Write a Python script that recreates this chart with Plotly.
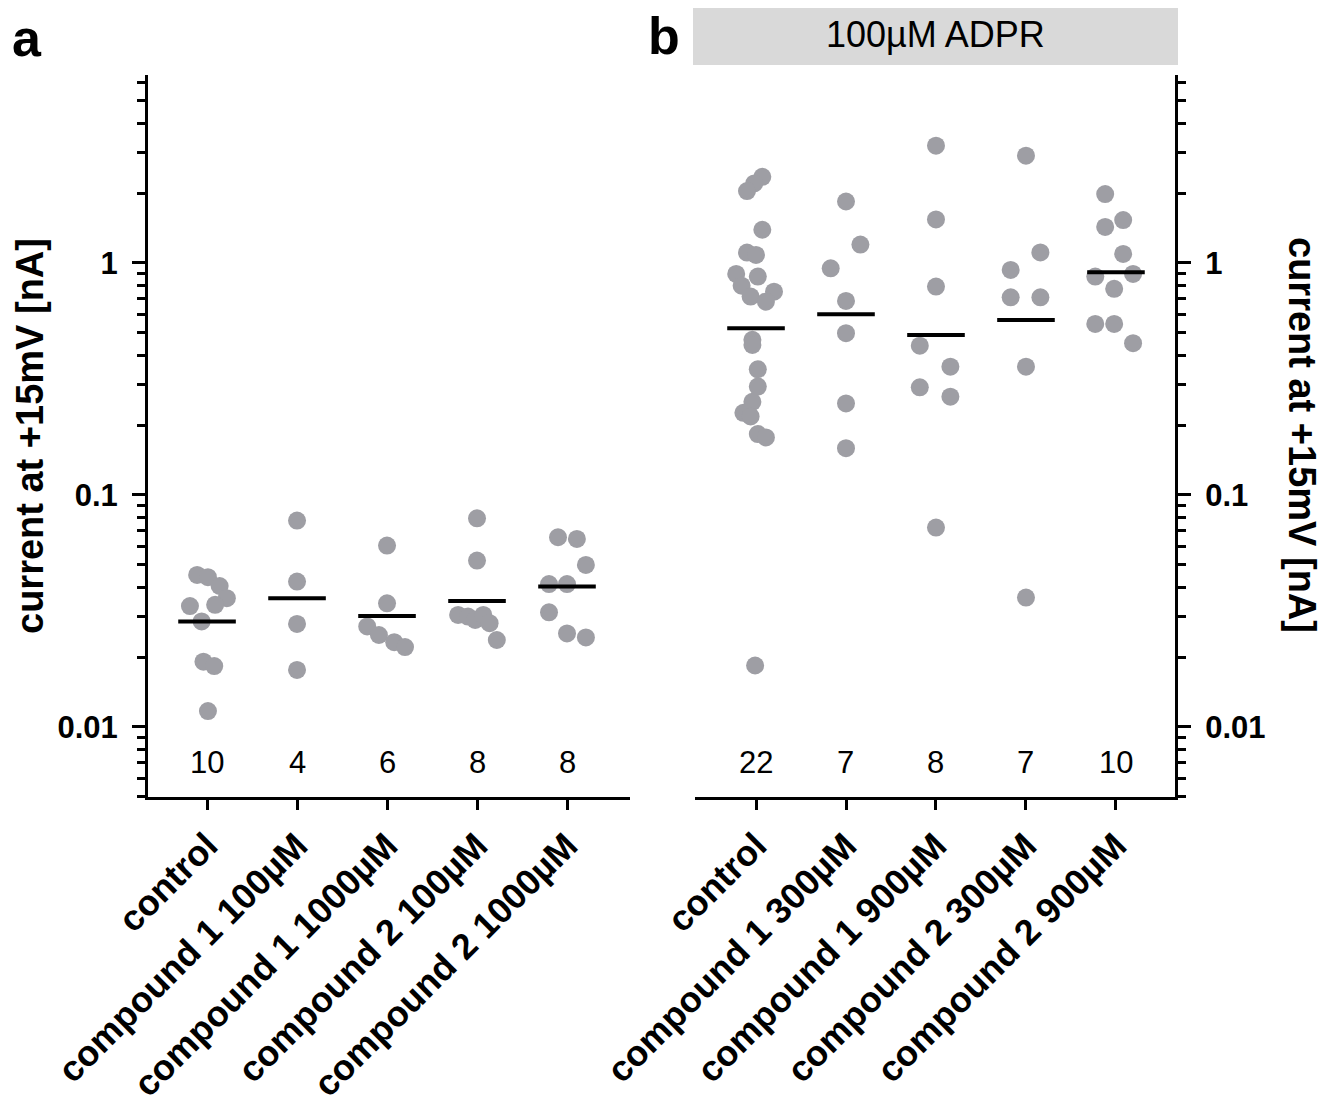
import plotly.graph_objects as go

# ---------------- data ----------------
cats_a = ["control", "compound 1 100µM", "compound 1 1000µM",
          "compound 2 100µM", "compound 2 1000µM"]
cats_b = ["control", "compound 1 300µM", "compound 1 900µM",
          "compound 2 300µM", "compound 2 900µM"]

vals_a = [
    [0.0452, 0.0442, 0.0405, 0.0359, 0.0336, 0.0332, 0.0285, 0.0191, 0.0183, 0.0117],
    [0.0775, 0.0423, 0.0278, 0.0176],
    [0.0605, 0.0341, 0.0271, 0.0249, 0.0232, 0.0221],
    [0.0793, 0.0521, 0.0304, 0.0299, 0.0289, 0.0304, 0.0280, 0.0237],
    [0.0657, 0.0646, 0.0499, 0.0413, 0.0413, 0.0312, 0.0253, 0.0243],
]
jit_a = [  # horizontal scatter offsets (category units)
    [-0.11, 0.01, 0.14, 0.22, 0.09, -0.19, -0.06, -0.04, 0.08, 0.01],
    [0.0, 0.0, 0.0, 0.0],
    [0.0, 0.0, -0.22, -0.09, 0.08, 0.20],
    [0.0, 0.0, -0.21, -0.10, -0.02, 0.07, 0.14, 0.22],
    [-0.10, 0.11, 0.21, -0.20, 0.0, -0.20, 0.0, 0.21],
]
means_a = [0.0285, 0.0359, 0.0301, 0.0349, 0.0403]
n_a = [10, 4, 6, 8, 8]

vals_b = [
    [2.35, 2.20, 2.04, 1.39, 1.108, 1.083, 0.897, 0.873, 0.798, 0.752, 0.716,
     0.681, 0.466, 0.443, 0.348, 0.293, 0.252, 0.226, 0.218, 0.183, 0.177, 0.0184],
    [1.84, 1.20, 0.948, 0.686, 0.498, 0.248, 0.159],
    [3.20, 1.54, 0.791, 0.440, 0.357, 0.291, 0.265, 0.0723],
    [2.90, 1.11, 0.933, 0.711, 0.711, 0.357, 0.0361],
    [1.98, 1.53, 1.43, 1.093, 0.897, 0.873, 0.773, 0.546, 0.546, 0.451],
]
jit_b = [
    [0.07, -0.02, -0.10, 0.07, -0.10, 0.0, -0.22, 0.02, -0.16, 0.20, -0.06,
     0.11, -0.04, -0.04, 0.02, 0.02, -0.04, -0.14, -0.06, 0.02, 0.11, -0.01],
    [0.0, 0.16, -0.17, 0.0, 0.0, 0.0, 0.0],
    [0.0, 0.0, 0.0, -0.18, 0.16, -0.18, 0.16, 0.0],
    [0.0, 0.16, -0.17, -0.17, 0.16, 0.0, 0.0],
    [-0.12, 0.08, -0.12, 0.08, 0.19, -0.23, -0.02, -0.23, -0.02, 0.19],
]
means_b = [0.523, 0.601, 0.489, 0.568, 0.912]
n_b = [22, 7, 8, 7, 10]

major_ticks = [0.01, 0.1, 1]
major_text = ["0.01", "0.1", "1"]
minor_ticks = [0.005, 0.006, 0.007, 0.008, 0.009,
               0.02, 0.03, 0.04, 0.05, 0.06, 0.07, 0.08, 0.09,
               0.2, 0.3, 0.4, 0.5, 0.6, 0.7, 0.8, 0.9,
               2, 3, 4, 5, 6]

# ---------------- styling ----------------
OFF = 8                      # page body margin of the browser
W, H = 1340 - OFF, 1110 - OFF
FONT = "Liberation Sans, Arial, sans-serif"
DOT = "#9e9ea4"
HALF = 0.32


def px(x):
    return (x - OFF) / W


def py(y):
    return 1 - (y - OFF) / H


fig = go.Figure()


def add_panel(vals, jit, means, xa, ya):
    xs, ys = [], []
    for i, (v, j) in enumerate(zip(vals, jit)):
        xs += [i + o for o in j]
        ys += v
    fig.add_trace(go.Scatter(x=xs, y=ys, mode="markers", xaxis=xa, yaxis=ya,
                             marker=dict(size=18, color=DOT, line=dict(width=0)),
                             showlegend=False, hoverinfo="y"))
    lx, ly = [], []
    for i, m in enumerate(means):
        lx += [i - HALF, i + HALF, None]
        ly += [m, m, None]
    fig.add_trace(go.Scatter(x=lx, y=ly, mode="lines", xaxis=xa, yaxis=ya,
                             line=dict(color="black", width=4),
                             showlegend=False, hoverinfo="skip"))


add_panel(vals_a, jit_a, means_a, "x", "y")
add_panel(vals_b, jit_b, means_b, "x2", "y2")

ydom = [py(797), py(75)]
yrange = [-2.302, 0.810]


def xaxis_cfg(dom, rng, labels):
    return dict(domain=dom, range=rng, tickmode="array", tickvals=list(range(len(labels))),
                ticktext=labels, tickangle=-45, ticks="outside", ticklen=10, tickwidth=3,
                tickcolor="black", showline=True, linewidth=3, linecolor="black",
                showgrid=False, zeroline=False, automargin=False,
                tickfont=dict(family=FONT, size=36, color="black", weight="bold"))


def yaxis_cfg(anchor, side):
    return dict(type="log", domain=ydom, range=yrange, anchor=anchor, side=side,
                tickmode="array", tickvals=major_ticks, ticktext=major_text,
                ticks="outside", ticklen=13, tickwidth=3, tickcolor="black",
                showline=True, linewidth=3, linecolor="black", showgrid=False,
                zeroline=False, ticklabelstandoff=8, automargin=False,
                tickfont=dict(family=FONT, size=31, color="black", weight="bold"),
                minor=dict(ticks="outside", ticklen=8, tickwidth=2.5, tickcolor="black",
                           tickmode="array", tickvals=minor_ticks, showgrid=False))


fig.update_layout(
    template="none",
    width=W, height=H, margin=dict(l=0, r=0, t=0, b=0, autoexpand=False),
    paper_bgcolor="white", plot_bgcolor="white",
    xaxis=dict(anchor="y", **xaxis_cfg([px(148), px(630)], [-0.656, 4.70], cats_a)),
    yaxis=yaxis_cfg("x", "left"),
    xaxis2=dict(anchor="y2", **xaxis_cfg([px(695), px(1175)], [-0.678, 4.656], cats_b)),
    yaxis2=yaxis_cfg("x2", "right"),
)

ann = []
count_y = -2.155
for i, n in enumerate(n_a):
    ann.append(dict(x=i, y=count_y, xref="x", yref="y", text=str(n), showarrow=False,
                    font=dict(family=FONT, size=31, color="black"), yanchor="middle"))
for i, n in enumerate(n_b):
    ann.append(dict(x=i, y=count_y, xref="x2", yref="y2", text=str(n), showarrow=False,
                    font=dict(family=FONT, size=31, color="black"), yanchor="middle"))

ann.append(dict(x=px(30), y=py(436), xref="paper", yref="paper",
                text="current at +15mV [nA]", textangle=-90, showarrow=False,
                font=dict(family=FONT, size=38, color="black", weight="bold"),
                xanchor="center", yanchor="middle"))
ann.append(dict(x=px(1302), y=py(435), xref="paper", yref="paper",
                text="current at +15mV [nA]", textangle=90, showarrow=False,
                font=dict(family=FONT, size=38, color="black", weight="bold"),
                xanchor="center", yanchor="middle"))
ann.append(dict(x=px(27), y=py(38), xref="paper", yref="paper", text="a",
                showarrow=False, font=dict(family=FONT, size=52, color="black", weight="bold"),
                xanchor="center", yanchor="middle"))
ann.append(dict(x=px(664), y=py(36), xref="paper", yref="paper", text="b",
                showarrow=False, font=dict(family=FONT, size=52, color="black", weight="bold"),
                xanchor="center", yanchor="middle"))
ann.append(dict(x=px(935), y=py(35), xref="paper", yref="paper", text="100µM ADPR",
                showarrow=False, font=dict(family=FONT, size=36, color="black"),
                xanchor="center", yanchor="middle"))
fig.update_layout(annotations=ann)

fig.add_shape(type="rect", xref="paper", yref="paper",
              x0=px(693), x1=px(1178), y0=py(65), y1=py(5),
              fillcolor="#d9d9d9", line=dict(width=0), layer="below")

fig.write_html("out.html")
